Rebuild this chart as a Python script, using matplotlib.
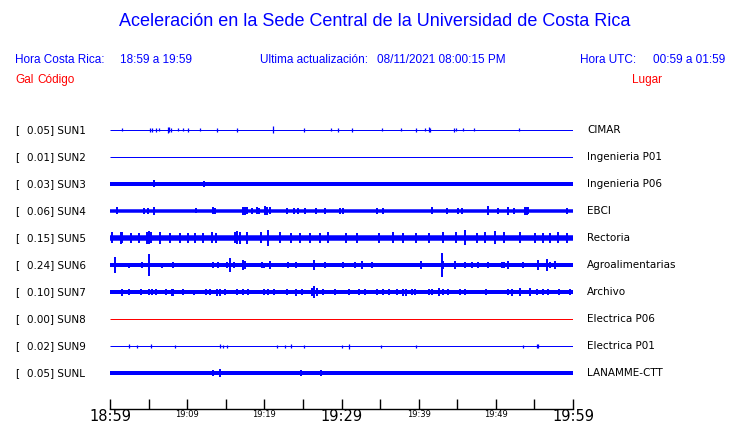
import matplotlib
matplotlib.use("Agg")
import matplotlib.pyplot as plt

# stations, peak values, locations
codes = ["SUN1", "SUN2", "SUN3", "SUN4", "SUN5", "SUN6", "SUN7", "SUN8", "SUN9", "SUNL"]
peaks = ["0.05", "0.01", "0.03", "0.06", "0.15", "0.24", "0.10", "0.00", "0.02", "0.05"]
places = ["CIMAR", "Ingenieria P01", "Ingenieria P06", "EBCI", "Rectoria",
          "Agroalimentarias", "Archivo", "Electrica P06", "Electrica P01", "LANAMME-CTT"]
trace_colors = ["blue"] * 7 + ["red"] + ["blue"] * 2
# trace thickness (px)
base_px = [1, 1, 4, 3.5, 5.5, 4, 4, 1, 1, 4]

# bursts / spikes: (minute after 18:59, half height in px)
sun1_events = [(1.6, 1.5), (5.2, 2), (5.5, 2), (5.9, 2), (6.3, 1.5), (7.5, 3), (7.7, 2.5),
               (7.9, 2), (8.8, 1.5), (9.5, 1.5), (10.1, 2), (11.6, 1.5), (13.9, 2), (16.4, 2),
               (21.1, 3.5), (25.2, 2), (28.6, 1.5), (29.6, 2), (31.3, 2), (35.2, 1.5), (37.7, 1.5),
               (39.6, 2), (40.8, 1.5), (41.3, 2.5), (41.5, 2), (44.6, 2), (44.8, 1.5), (45.7, 1.5),
               (47.2, 1.5), (53.0, 1.5)]
sun2_events = []
sun3_events = [(5.7, 3.5), (12.2, 3)]
sun4_events = [(0.9, 3.5), (4.4, 3), (4.9, 3), (5.7, 4), (11.1, 2.5), (13.3, 3.5), (13.6, 3),
               (17.3, 4), (17.5, 4), (17.7, 3.5), (18.4, 3), (19.0, 3.5), (19.3, 3), (20.1, 4.5),
               (20.4, 4), (20.7, 3.5), (23.0, 3), (23.8, 3), (24.3, 3), (25.3, 3), (26.7, 3),
               (27.9, 3), (29.8, 3), (30.2, 3), (34.6, 3), (35.4, 3), (41.7, 3.5), (43.7, 3),
               (45.1, 3), (45.6, 3), (49.0, 4.5), (50.3, 3), (51.6, 4), (52.3, 3), (53.8, 4),
               (54.0, 4), (54.2, 3.5), (59.2, 3)]
sun5_events = [(0.2, 5.5), (1.4, 6), (1.6, 5.5), (2.7, 5), (3.8, 5), (4.8, 6), (5.0, 6.5),
               (5.3, 5.5), (6.5, 6), (7.8, 5), (9.1, 5), (10.1, 5), (11.0, 5), (12.1, 5),
               (13.2, 5.5), (13.8, 5), (16.2, 5.5), (16.4, 6.5), (16.8, 6), (17.7, 6), (19.6, 5.5),
               (20.5, 8), (22.0, 5.5), (23.5, 5), (24.6, 5), (25.9, 5), (27.2, 5), (28.3, 5.5),
               (30.6, 5), (32.0, 5), (34.8, 5), (36.7, 5.5), (38.0, 5), (39.7, 5), (41.3, 5),
               (43.2, 5.5), (44.9, 5.5), (46.0, 7.5), (47.5, 5), (48.6, 5.5), (49.9, 6.5),
               (51.0, 5.5), (53.1, 5.5), (55.1, 5), (56.1, 5), (57.0, 5), (58.1, 5.5), (59.2, 5)]
sun6_events = [(0.65, 8), (2.5, 2.5), (4.2, 3), (5.0, 11), (6.7, 2.5), (8.1, 3), (13.4, 3),
               (14.0, 3), (15.2, 3), (15.6, 7), (16.1, 3), (17.3, 5), (17.5, 4), (19.7, 3),
               (20.0, 2.5), (20.7, 4), (23.1, 3), (24.1, 3), (26.5, 5), (27.8, 3), (30.2, 3),
               (31.8, 3), (32.7, 4), (34.0, 3), (40.3, 4), (43.0, 12), (43.2, 3.5), (44.7, 4),
               (46.0, 3), (46.9, 3), (47.7, 3), (49.0, 3), (50.8, 3), (51.1, 3), (51.6, 3.5),
               (53.5, 3), (55.4, 5), (56.6, 6), (57.0, 3), (57.7, 3.5)]
sun7_events = [(1.5, 3.5), (2.5, 3), (4.0, 3), (5.0, 3), (5.5, 3), (6.0, 3), (7.3, 3), (8.0, 3.5),
               (8.2, 3.5), (9.5, 3), (10.9, 2.5), (12.5, 3), (13.0, 3), (13.9, 3.5), (14.2, 3.5),
               (14.9, 3), (16.4, 3), (17.3, 3), (17.9, 3), (19.9, 3), (20.5, 3), (21.2, 3),
               (22.9, 3), (24.1, 3.5), (24.9, 3), (26.2, 4), (26.5, 6), (26.8, 4), (27.6, 3),
               (29.2, 3), (31.0, 3), (32.3, 3), (33.1, 3), (34.6, 3), (35.4, 3), (36.1, 3),
               (37.2, 3), (38.0, 3.5), (38.4, 3.5), (39.1, 3), (39.5, 3), (41.3, 3), (41.7, 3),
               (42.6, 4), (43.2, 3), (43.8, 3), (45.4, 3), (46.0, 3), (48.7, 3), (51.6, 3),
               (52.1, 3.5), (53.1, 4), (54.4, 4), (55.3, 3), (56.1, 3), (56.8, 3), (58.2, 3),
               (59.6, 3)]
sun8_events = []
sun9_events = [(2.5, 2), (3.5, 1.5), (5.3, 2), (8.4, 1.5), (14.3, 2), (14.6, 1.5), (15.2, 1.5),
               (21.7, 1.5), (22.7, 1.5), (23.5, 2), (25.2, 1.5), (30.1, 1.5), (31.0, 2.5),
               (35.1, 1.5), (39.6, 1.5), (53.5, 1.5), (55.3, 2), (55.5, 2)]
sunl_events = [(13.3, 3), (14.3, 4), (24.8, 3), (27.4, 3)]
all_events = [sun1_events, sun2_events, sun3_events, sun4_events, sun5_events,
              sun6_events, sun7_events, sun8_events, sun9_events, sunl_events]

tick_minutes = list(range(0, 61, 5))
tick_text = {0: "18:59", 10: "19:09", 20: "19:19", 30: "19:29", 40: "19:39", 50: "19:49", 60: "19:59"}
big_ticks = [0, 30, 60]

W, H = 740, 423
fig = plt.figure(figsize=(W / 100, H / 100), dpi=100)
fig.patch.set_facecolor("white")

row_px = 27.0
top_row_y = 130
axis_y = 409
ax = fig.add_axes([110 / W, (H - axis_y) / H, 463 / W, (axis_y - 115) / H])
ax.set_xlim(0, 60)
ax.set_ylim((axis_y - top_row_y) / row_px, (115 - top_row_y) / row_px)
px = 0.72  # points per pixel

for i, ev in enumerate(all_events):
    c = trace_colors[i]
    ax.hlines(i, 0, 60, color=c, lw=base_px[i] * px, capstyle="butt")
    if ev:
        t = [e[0] for e in ev]
        a = [e[1] / row_px for e in ev]
        spike_lw = 0.9 if base_px[i] <= 1 else 1.4
        ax.vlines(t, [i - v for v in a], [i + v for v in a], color=c, lw=spike_lw)

for s in ["top", "left", "right"]:
    ax.spines[s].set_visible(False)
ax.spines["bottom"].set_linewidth(1.0)
ax.set_yticks([])
ax.set_xticks(tick_minutes)
ax.set_xticklabels([])
ax.tick_params(axis="x", direction="in", length=7.5, width=1.0, color="black")

for m, lab in tick_text.items():
    xx = (110 + m * 463 / 60) / W
    if m in big_ticks:
        fig.text(xx, (H - 416) / H, lab, ha="center", va="center",
                 fontsize=10.5, family="DejaVu Sans")
    else:
        fig.text(xx, (H - 414) / H, lab, ha="center", va="center",
                 fontsize=6, family="DejaVu Sans")

# station labels
for i in range(len(codes)):
    yy = (H - (top_row_y + i * row_px)) / H
    fig.text(15 / W, yy, "[", ha="left", va="center", fontsize=7.5, family="DejaVu Sans")
    fig.text(27 / W, yy, peaks[i] + "] " + codes[i], ha="left", va="center", fontsize=7.5,
             family="DejaVu Sans")
    fig.text(587 / W, yy, places[i], ha="left", va="center", fontsize=7.5, family="DejaVu Sans")

# header
hf = "Liberation Sans"
fs = 8.5
fig.text(375 / W, (H - 22) / H, "Aceleración en la Sede Central de la Universidad de Costa Rica",
         ha="center", va="center", fontsize=13, color="blue", family=hf)
fig.text(15 / W, (H - 60) / H, "Hora Costa Rica:", ha="left", va="center", fontsize=fs,
         color="blue", family=hf)
fig.text(120 / W, (H - 60) / H, "18:59 a 19:59", ha="left", va="center", fontsize=fs,
         color="blue", family=hf)
fig.text(260 / W, (H - 60) / H, "Ultima actualización:", ha="left", va="center", fontsize=fs,
         color="blue", family=hf)
fig.text(377 / W, (H - 60) / H, "08/11/2021 08:00:15 PM", ha="left", va="center", fontsize=fs,
         color="blue", family=hf)
fig.text(580 / W, (H - 60) / H, "Hora UTC:", ha="left", va="center", fontsize=fs,
         color="blue", family=hf)
fig.text(725 / W, (H - 60) / H, "00:59 a 01:59", ha="right", va="center", fontsize=fs,
         color="blue", family=hf)
fig.text(15 / W, (H - 80) / H, "Gal", ha="left", va="center", fontsize=fs, color="red", family=hf)
fig.text(37 / W, (H - 80) / H, "Código", ha="left", va="center", fontsize=fs, color="red", family=hf)
fig.text(662 / W, (H - 80) / H, "Lugar", ha="right", va="center", fontsize=fs, color="red", family=hf)

fig.savefig("out.png", dpi=100, facecolor="white")
